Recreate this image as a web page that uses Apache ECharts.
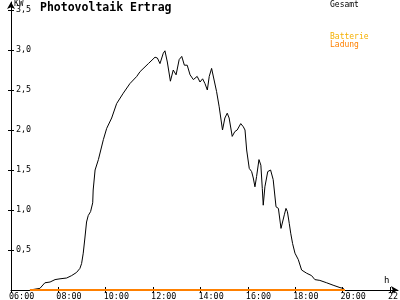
<!DOCTYPE html>
<html><head><meta charset="utf-8">
<script src="https://cdn.jsdelivr.net/npm/echarts@6/dist/echarts.min.js"></script>
<style>html,body{margin:0;padding:0;background:#fff}#c{width:400px;height:300px}</style>
</head><body><div id="c"></div>
<script>
// time in decimal hours
const times = [6.80,7.01,7.22,7.43,7.65,7.86,8.07,8.35,8.56,8.77,8.91,8.98,9.05,9.12,9.19,9.26,9.36,9.45,9.47,9.55,9.69,9.90,10.04,10.25,10.46,10.74,11.02,11.31,11.45,11.80,12.08,12.18,12.29,12.43,12.50,12.60,12.73,12.85,12.97,13.04,13.10,13.21,13.32,13.44,13.56,13.70,13.86,13.98,14.09,14.19,14.29,14.37,14.47,14.54,14.68,14.79,14.93,15.03,15.13,15.21,15.34,15.45,15.55,15.70,15.81,15.88,15.95,16.06,16.16,16.23,16.30,16.37,16.47,16.55,16.61,16.65,16.72,16.84,16.96,17.07,17.19,17.29,17.36,17.40,17.47,17.54,17.61,17.67,17.75,17.81,17.89,17.99,18.13,18.27,18.48,18.69,18.83,19.04,19.33,19.60,19.89,20.03,20.10];
const gesamt = [0,0.01,0.02,0.09,0.10,0.13,0.14,0.15,0.18,0.22,0.27,0.33,0.46,0.65,0.85,0.93,0.98,1.09,1.25,1.50,1.63,1.88,2.02,2.15,2.33,2.46,2.58,2.67,2.73,2.83,2.91,2.90,2.83,2.96,2.99,2.85,2.61,2.75,2.69,2.71,2.88,2.92,2.81,2.81,2.69,2.63,2.67,2.60,2.64,2.58,2.50,2.67,2.77,2.75,2.48,2.29,2.00,2.15,2.21,2.15,1.92,1.98,2.00,2.08,2.04,2.00,1.75,1.52,1.48,1.40,1.29,1.42,1.63,1.56,1.27,1.06,1.29,1.48,1.50,1.38,1.04,1.02,1.02,0.77,0.77,0.94,1.02,0.98,0.83,0.71,0.58,0.46,0.38,0.25,0.21,0.18,0.13,0.12,0.09,0.06,0.03,0.02,0];
const batterie = times.map(() => 0);
const ladung = times.map(() => 0);
const xTicks = [6,8,10,12,14,16,18,20,22];
const yTicks = [0.5,1,1.5,2,2.5,3,3.5];

const mono = 'DejaVu Sans Mono';
const pair = (arr) => times.map((t, i) => [t, arr[i]]);
const fmtT = v => (v < 10 ? '0' : '') + Math.round(v) + ':00';
const fmtY = v => v.toFixed(1).replace('.', ',');

const chart = echarts.init(document.getElementById('c'), null, {renderer: 'canvas'});
chart.setOption({
  animation: false,
  backgroundColor: '#fff',
  title: {text: 'Photovoltaik Ertrag', left: 40, top: 2, padding: 0,
    textStyle: {fontFamily: mono, fontWeight: 'bold', fontSize: 11.5, color: '#000'}},
  legend: [
    {left: 325, top: 1, orient: 'vertical', itemWidth: 0, itemHeight: 0, padding: 0, itemGap: 0,
     data: [{name: 'Gesamt', icon: 'none', textStyle: {color: '#000'}}],
     textStyle: {fontFamily: mono, fontSize: 8}},
    {left: 325, top: 33, orient: 'vertical', itemWidth: 0, itemHeight: 0, padding: 0, itemGap: 0,
     data: [{name: 'Batterie', icon: 'none', textStyle: {color: '#f5b000'}},
            {name: 'Ladung', icon: 'none', textStyle: {color: '#ff8000'}}],
     textStyle: {fontFamily: mono, fontSize: 8}}
  ],
  grid: {left: 11, right: 2, top: 2, bottom: 10, containLabel: false, outerBoundsMode: 'none'},
  xAxis: [{
    type: 'value', min: 6, max: 22.34,
    axisLine: {lineStyle: {color: '#000', width: 1}, symbol: ['none', 'arrow'], symbolSize: [6, 7]},
    axisTick: {customValues: xTicks, length: 3, lineStyle: {color: '#000'}},
    axisLabel: {customValues: xTicks, formatter: fmtT, align: 'left', margin: 3, padding: [0, 0, 0, -2],
      fontFamily: mono, fontSize: 8.4, color: '#000'},
    splitLine: {show: false}
  }, {
    type: 'value', min: 6, max: 22.34, position: 'bottom',
    axisLine: {show: false},
    axisTick: {customValues: xTicks, inside: true, length: 3, lineStyle: {color: '#000'}},
    axisLabel: {show: false}, splitLine: {show: false}
  }],
  yAxis: [{
    type: 'value', min: 0, max: 3.6,
    axisLine: {show: true, lineStyle: {color: '#000', width: 1}, symbol: ['none', 'arrow'], symbolSize: [6, 7]},
    axisTick: {show: true, customValues: yTicks, inside: true, length: 3, lineStyle: {color: '#000'}},
    axisLabel: {customValues: yTicks, formatter: fmtY, inside: true, margin: 5,
      fontFamily: mono, fontSize: 8.4, color: '#000'},
    splitLine: {show: false}
  }, {
    type: 'value', min: 0, max: 3.6, position: 'left',
    axisLine: {show: false},
    axisTick: {show: true, customValues: yTicks, length: 3, lineStyle: {color: '#000'}},
    axisLabel: {show: false}, splitLine: {show: false}
  }],
  graphic: [
    {type: 'text', left: 14, top: 0, style: {text: 'KW', font: '8px "DejaVu Sans Mono"', fill: '#000'}},
    {type: 'text', left: 384, top: 276, style: {text: 'h', font: '9px "DejaVu Sans Mono"', fill: '#000'}}
  ],
  series: [
    {name: 'Gesamt', type: 'line', data: pair(gesamt), showSymbol: false, symbol: 'none',
     lineStyle: {color: '#000', width: 1}, itemStyle: {color: '#000'}, z: 3},
    {name: 'Batterie', type: 'line', data: pair(batterie), showSymbol: false, symbol: 'none',
     lineStyle: {color: '#f5b000', width: 2}, itemStyle: {color: '#f5b000'}, z: 4},
    {name: 'Ladung', type: 'line', data: pair(ladung), showSymbol: false, symbol: 'none',
     lineStyle: {color: '#ff8000', width: 2}, itemStyle: {color: '#ff8000'}, z: 5}
  ]
});
</script></body></html>
